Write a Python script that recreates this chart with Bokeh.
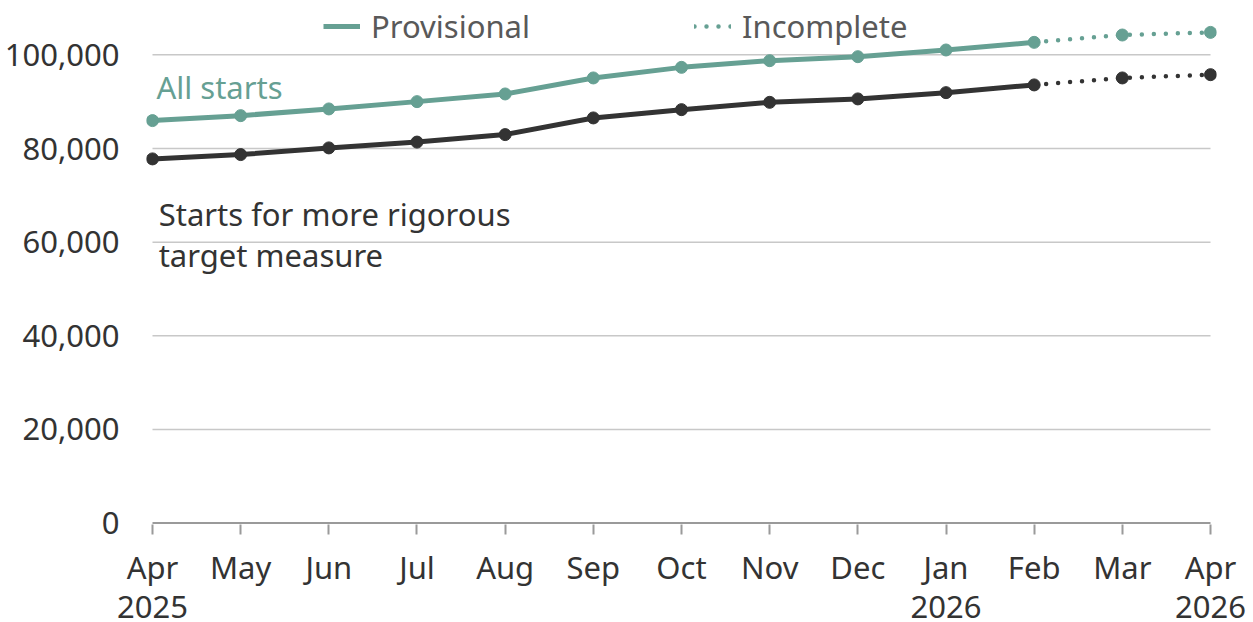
from bokeh.plotting import figure
from bokeh.models import (Legend, LegendItem, Label, FixedTicker, Range1d,
                          NumeralTickFormatter, ColumnDataSource, LinearAxis)
from bokeh.embed import file_html
from bokeh.resources import INLINE

# ---- data ----
months = ["Apr", "May", "Jun", "Jul", "Aug", "Sep", "Oct", "Nov", "Dec",
          "Jan", "Feb", "Mar", "Apr"]
years = {0: "2025", 9: "2026", 12: "2026"}   # year shown under these months
all_starts = [85960, 87020, 88450, 90010, 91650, 95070, 97330, 98760, 99610,
              101040, 102670, 104240, 104800]
rigorous = [77780, 78700, 80130, 81370, 82970, 86530, 88300, 89860, 90590,
            91930, 93580, 95070, 95770]
last_provisional = 10          # Feb 2026 is the last provisional month
y_ticks = [0, 20000, 40000, 60000, 80000, 100000]

TEAL = "#66a093"
DARK = "#333333"
FONT = "Noto Sans"
FS = "31px"

x = list(range(len(months)))
prov = ColumnDataSource(dict(x=x[:last_provisional + 1],
                             a=all_starts[:last_provisional + 1],
                             r=rigorous[:last_provisional + 1]))
inc = ColumnDataSource(dict(x=x[last_provisional:],
                            a=all_starts[last_provisional:],
                            r=rigorous[last_provisional:]))
allsrc = ColumnDataSource(dict(x=x, a=all_starts, r=rigorous))

p = figure(width=1253, height=622,
           x_range=Range1d(-0.068, len(months) - 1 + 0.068),
           y_range=Range1d(-300, 109900),
           output_backend="svg", toolbar_location=None, title=None,
           min_border_left=146, min_border_right=37, min_border_top=8,
           min_border_bottom=98, outline_line_color=None,
           background_fill_color="white", border_fill_color="white")
p.xgrid.visible = False
p.ygrid.visible = False

# gridlines spanning only the data extent
grid_vals = y_ticks[1:]
p.segment(x0=[x[0]] * len(grid_vals), x1=[x[-1]] * len(grid_vals),
          y0=grid_vals, y1=grid_vals, line_color="#c8c8c8", line_width=1.5)
# baseline axis line
p.segment(x0=[x[0]], x1=[x[-1]], y0=[y_ticks[0]], y1=[y_ticks[0]],
          line_color="#9a9a9a", line_width=2)

# lines
r_prov_t = p.line("x", "a", source=prov, line_color=TEAL, line_width=5)
p.line("x", "r", source=prov, line_color=DARK, line_width=5)
r_inc_t = p.line("x", "a", source=inc, line_color=TEAL, line_width=4.5,
                 line_dash="0 12", line_cap="round")
p.line("x", "r", source=inc, line_color=DARK, line_width=4.5,
       line_dash="0 12", line_cap="round")
p.scatter("x", "a", source=allsrc, size=12, color=TEAL)
p.scatter("x", "r", source=allsrc, size=12, color=DARK)

# axes
xa = p.xaxis[0]
xa.ticker = FixedTicker(ticks=x)
xa.major_label_overrides = {i: m for i, m in enumerate(months)}
xa.axis_line_color = None
xa.major_tick_line_color = "#9a9a9a"
xa.major_tick_line_width = 2
xa.major_tick_out = 10
xa.major_tick_in = 0
xa.minor_tick_line_color = None
xa.major_label_text_font = FONT
xa.major_label_text_font_size = FS
xa.major_label_text_color = DARK
xa.major_label_standoff = 11

# second row of x labels: years
ya2 = LinearAxis(ticker=FixedTicker(ticks=list(years.keys())),
                 major_label_overrides=years,
                 axis_line_color=None, major_tick_line_color=None,
                 minor_tick_line_color=None, major_tick_out=0,
                 major_tick_in=0, major_label_standoff=5,
                 major_label_text_font=FONT, major_label_text_font_size=FS,
                 major_label_text_color=DARK)
p.add_layout(ya2, "below")

ya = p.yaxis[0]
ya.ticker = FixedTicker(ticks=y_ticks)
ya.formatter = NumeralTickFormatter(format="0,0")
ya.axis_line_color = None
ya.major_tick_line_color = None
ya.minor_tick_line_color = None
ya.major_label_text_font = FONT
ya.major_label_text_font_size = FS
ya.major_label_text_color = DARK
ya.major_label_standoff = 21

# series labels
p.add_layout(Label(x=0.045, y=93030, text="All starts", text_color=TEAL,
                   text_font=FONT, text_font_size=FS,
                   text_baseline="alphabetic"))
p.add_layout(Label(x=0.07, y=65910, text="Starts for more rigorous",
                   text_color=DARK, text_font=FONT, text_font_size=FS,
                   text_baseline="alphabetic"))
p.add_layout(Label(x=0.07, y=57150, text="target measure",
                   text_color=DARK, text_font=FONT, text_font_size=FS,
                   text_baseline="alphabetic"))

legend = Legend(items=[LegendItem(label="Provisional", renderers=[r_prov_t]),
                       LegendItem(label="Incomplete", renderers=[r_inc_t])],
                orientation="horizontal", location=(177, 476),
                background_fill_alpha=0, border_line_color=None,
                padding=0, margin=0, spacing=164, glyph_width=37,
                glyph_height=44, label_height=44, label_standoff=11,
                label_text_font=FONT, label_text_font_size=FS,
                label_text_color="#595959")
p.add_layout(legend)

open("out.html", "w").write(file_html(p, INLINE))
